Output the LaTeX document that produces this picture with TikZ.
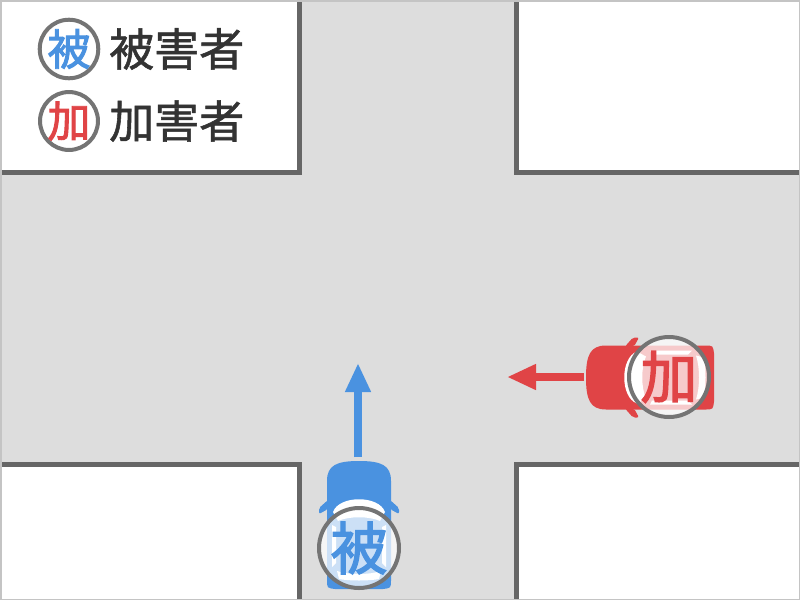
\documentclass[tikz,border=0pt]{standalone}
\usepackage{fontspec}
\newfontfamily\jp{Noto Sans CJK JP}[FakeBold=1.2]
\newfontfamily\jpb{Noto Sans CJK JP}[FakeBold=2.2]
\usetikzlibrary{arrows.meta}
\definecolor{road}{HTML}{DDDDDD}
\definecolor{curb}{HTML}{666666}
\definecolor{frame}{HTML}{C4C4C4}
\definecolor{ring}{HTML}{747474}
\definecolor{vblue}{HTML}{4A92E0}
\definecolor{ared}{HTML}{E04446}
\definecolor{ink}{HTML}{333333}
\newcommand\drawcar[1]{%
  % body, front toward local -y
  \fill[#1] (-32,55) -- (-32,-44) .. controls (-32,-60) and (-22,-64) .. (0,-64)
     .. controls (22,-64) and (32,-60) .. (32,-44) -- (32,55)
     .. controls (32,63) .. (24,64) -- (-24,64) .. controls (-32,63) .. (-32,55) -- cycle;
  % mirrors
  \fill[#1, rounded corners=2pt] (-31,-25) -- (-40,-17) -- (-40,-11) -- (-31,-16) -- cycle;
  \fill[#1, rounded corners=2pt] (31,-25) -- (40,-17) -- (40,-11) -- (31,-16) -- cycle;
  % windshield
  \fill[white] (-26,-13) .. controls (-20,-30) and (20,-30) .. (26,-13)
     -- (21,-4) .. controls (10,-9) and (-10,-9) .. (-21,-4) -- cycle;
  % side windows
  \fill[white] (-27,0) -- (-23,2) -- (-23,38) -- (-27,42) -- cycle;
  \fill[white] (27,0) -- (23,2) -- (23,38) -- (27,42) -- cycle;
  % rear window
  \fill[white] (-22,46) .. controls (-10,50) and (10,50) .. (22,46)
     -- (20,54) .. controls (10,56) and (-10,56) .. (-20,54) -- cycle;
}
\tikzset{
  curbline/.style={curb, line width=5pt, line join=miter, line cap=butt},
  bigring/.style={circle, draw=ring, line width=4pt, fill=white, fill opacity=0.72,
     text opacity=1, minimum size=80pt, inner sep=0pt,
     font=\jpb\fontsize{57}{57}\selectfont},
  smallring/.style={circle, draw=ring, line width=4pt, minimum size=57pt, inner sep=0pt,
     font=\jpb\fontsize{43}{43}\selectfont},
  legendtext/.style={anchor=west, inner sep=0pt, text=ink,
     font=\jp\fontsize{45}{45}\selectfont},
  motion/.style={line width=8pt, -{Triangle[length=29pt, width=24pt]}},
}
\begin{document}
\begin{tikzpicture}[x=1pt, y=-1pt]
  \useasboundingbox (0,0) rectangle (800,600);
  \fill[road] (0,0) rectangle (800,600);
  % blocks
  \fill[white] (0,0) rectangle (299,172.5);
  \fill[white] (516,0) rectangle (800,172.5);
  \fill[white] (0,464) rectangle (299,600);
  \fill[white] (516,464) rectangle (800,600);
  \draw[curbline] (299,0) -- (299,172.5) -- (0,172.5);
  \draw[curbline] (516,0) -- (516,172.5) -- (800,172.5);
  \draw[curbline] (0,464) -- (299,464) -- (299,600);
  \draw[curbline] (800,464) -- (516,464) -- (516,600);
  \draw[frame, line width=1.5pt] (0.75,0.75) rectangle (799.25,599.25);
  % legend
  \node[smallring, text=vblue] (legV) at (69,49) {被};
  \node[smallring, text=ared] (legA) at (69,121) {加};
  \node[legendtext] (legVt) at (109,49) {被害者};
  \node[legendtext] (legAt) at (109,121) {加害者};
  % victim car (blue, heading up)
  \begin{scope}[shift={(359,525)}]
    \drawcar{vblue}
  \end{scope}
  \node[bigring, text=vblue] (vict) at (359,548) {被};
  \coordinate (vTail) at (358,457);
  \coordinate (vHead) at (358,363);
  \draw[motion, vblue] (vTail) -- (vHead);
  % offender car (red, heading left)
  \begin{scope}[shift={(650,377.5)}, rotate=90]
    \drawcar{ared}
  \end{scope}
  \node[bigring, text=ared] (offn) at (669,377) {加};
  \coordinate (aTail) at (584,377);
  \coordinate (aHead) at (507,377);
  \draw[motion, ared] (aTail) -- (aHead);
\end{tikzpicture}
\end{document}
